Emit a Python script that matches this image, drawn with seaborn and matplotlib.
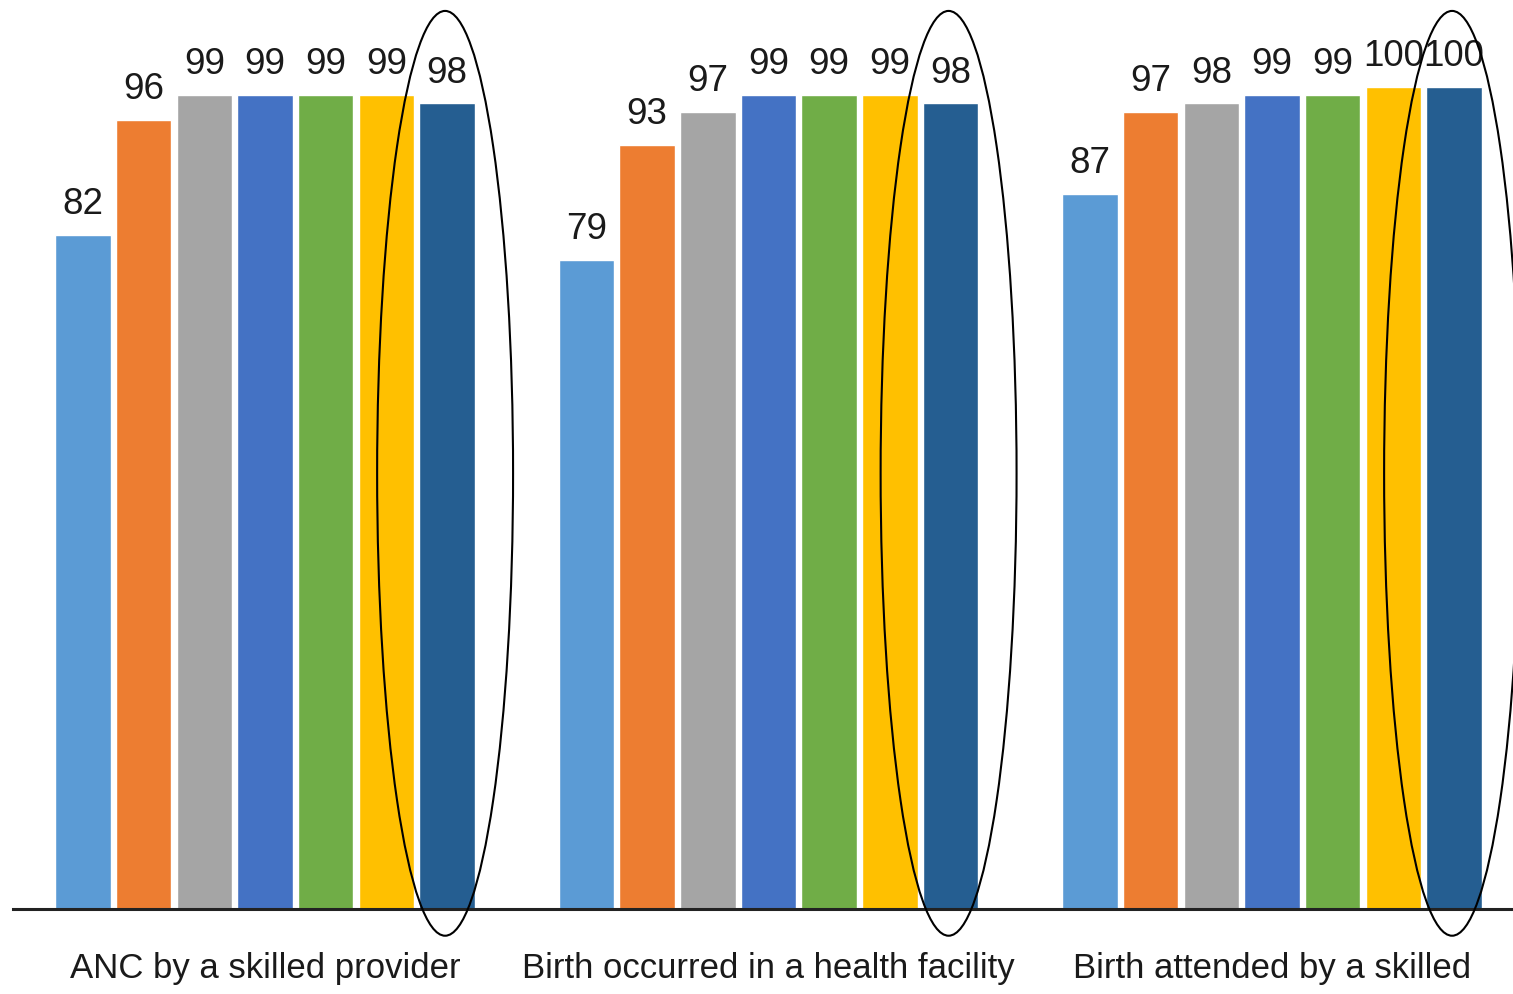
import matplotlib
matplotlib.use("Agg")
import matplotlib.pyplot as plt
from matplotlib.patches import Ellipse
import pandas as pd
import seaborn as sns

# Indicators shown along the x axis
categories = [
    "ANC by a skilled provider",
    "Birth occurred in a health facility",
    "Birth attended by a skilled",
]

# One series per survey round (no legend is drawn)
surveys = ["Round 1", "Round 2", "Round 3", "Round 4", "Round 5", "Round 6", "Round 7"]

# Percentages per indicator, one value per survey round
anc_skilled = [82, 96, 99, 99, 99, 99, 98]
facility_birth = [79, 93, 97, 99, 99, 99, 98]
skilled_attendant = [87, 97, 98, 99, 99, 100, 100]

colors = ["#5B9BD5", "#ED7D31", "#A5A5A5", "#4472C4", "#70AD47", "#FFC000", "#255E91"]

rows = []
for cat, vals in zip(categories, [anc_skilled, facility_birth, skilled_attendant]):
    for s, v in zip(surveys, vals):
        rows.append({"indicator": cat, "survey": s, "pct": v})
df = pd.DataFrame(rows)

sns.set_style("white")
font_family = ["Liberation Sans", "DejaVu Sans"]
plt.rcParams["font.family"] = font_family

W, H = 1513, 995
fig = plt.figure(figsize=(W / 100, H / 100), dpi=100)
ax = fig.add_axes([13 / W, 85 / H, 1 - 13 / W, 910 / H])

sns.barplot(
    data=df, x="indicator", y="pct", hue="survey",
    order=categories, hue_order=surveys, palette=colors,
    saturation=1, width=0.844, gap=0.086, legend=False, ax=ax,
)

for cont in ax.containers:
    ax.bar_label(cont, fmt="%d", padding=10, fontsize=26.5, color="#1a1a1a")

# Highlight the latest round in every indicator group
for patch in ax.containers[-1]:
    cx = patch.get_x() + patch.get_width() / 2
    ax.add_patch(Ellipse((cx - 0.004, 53.0), 0.27, 112.5, fill=False, edgecolor="black",
                         linewidth=1.5, clip_on=False, zorder=5))

ax.set_xlim(-0.5005, 2.4787)
ax.set_ylim(0, 110.7)
ax.set_xlabel("")
ax.set_ylabel("")
ax.set_yticks([])
for side in ["left", "right", "top"]:
    ax.spines[side].set_visible(False)
ax.spines["bottom"].set_color("#222222")
ax.spines["bottom"].set_linewidth(2.2)
ax.tick_params(axis="x", length=0, pad=30, labelsize=25, labelcolor="#1a1a1a")

fig.savefig("out.png", dpi=100)
